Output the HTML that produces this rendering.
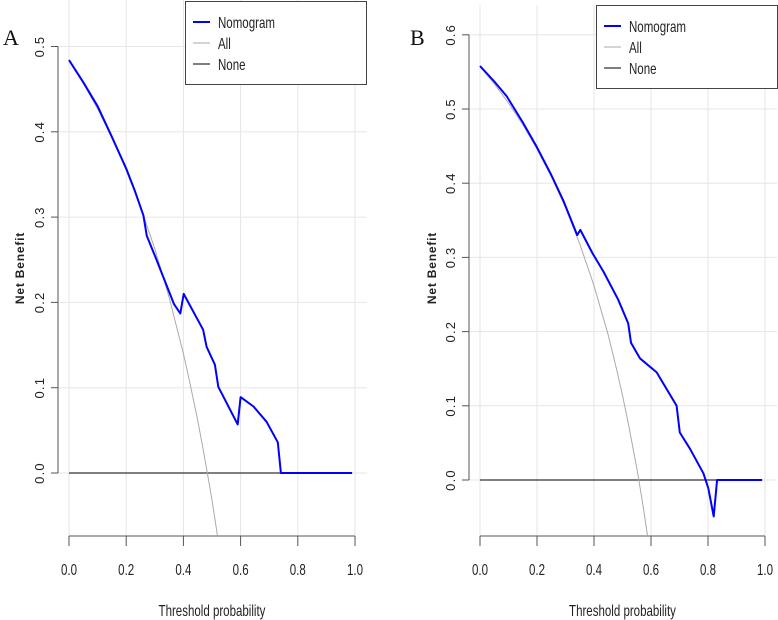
<!DOCTYPE html>
<html><head><meta charset="utf-8"><style>
body{margin:0;background:#fff;}
svg{display:block;font-family:"Liberation Sans",sans-serif;}
</style></head><body>
<svg id="c" width="778" height="620" viewBox="0 0 778 620"></svg>
<script>
// Panel A data
const xTicks = [0, 0.2, 0.4, 0.6, 0.8, 1.0];
const xTickLabels = ["0.0", "0.2", "0.4", "0.6", "0.8", "1.0"];
const aYTicks = [0, 0.1, 0.2, 0.3, 0.4, 0.5];
const aYTickLabels = ["0.0", "0.1", "0.2", "0.3", "0.4", "0.5"];
const aNomoT = [0, 0.05, 0.1, 0.15, 0.2, 0.23, 0.26, 0.272, 0.3, 0.367, 0.389, 0.401, 0.469, 0.481, 0.51, 0.522, 0.59, 0.6, 0.645, 0.691, 0.73, 0.741, 0.99];
const aNomoNB = [0.484, 0.458, 0.43, 0.394, 0.357, 0.331, 0.302, 0.278, 0.255, 0.198, 0.187, 0.21, 0.168, 0.148, 0.127, 0.101, 0.057, 0.089, 0.078, 0.06, 0.036, 0, 0];
const aAllT = [0, 0.05, 0.1, 0.15, 0.2, 0.25, 0.3, 0.35, 0.4, 0.42, 0.45, 0.47, 0.49, 0.5, 0.52];
const aAllNB = [0.484, 0.457, 0.427, 0.393, 0.355, 0.312, 0.263, 0.206, 0.14, 0.11, 0.062, 0.026, -0.012, -0.032, -0.075];
// Panel B data
const bYTicks = [0, 0.1, 0.2, 0.3, 0.4, 0.5, 0.6];
const bYTickLabels = ["0.0", "0.1", "0.2", "0.3", "0.4", "0.5", "0.6"];
const bNomoT = [0, 0.05, 0.094, 0.15, 0.199, 0.25, 0.292, 0.341, 0.352, 0.394, 0.433, 0.485, 0.52, 0.53, 0.561, 0.62, 0.69, 0.701, 0.737, 0.784, 0.801, 0.82, 0.832, 0.99];
const bNomoNB = [0.558, 0.537, 0.517, 0.482, 0.449, 0.411, 0.377, 0.33, 0.337, 0.306, 0.281, 0.243, 0.211, 0.185, 0.164, 0.145, 0.1, 0.064, 0.042, 0.009, -0.011, -0.049, 0, 0];
const bAllT = [0, 0.05, 0.1, 0.15, 0.2, 0.25, 0.3, 0.35, 0.4, 0.45, 0.48, 0.5, 0.52, 0.55, 0.57, 0.59];
const bAllNB = [0.557, 0.534, 0.508, 0.479, 0.446, 0.409, 0.367, 0.318, 0.262, 0.195, 0.148, 0.114, 0.077, 0.016, -0.03, -0.08];
const noneT = [0, 0.99];
const noneNB = [0, 0];

const NS = "http://www.w3.org/2000/svg";
const svg = document.getElementById("c");
function mk(tag, attrs, parent, text) {
  const e = document.createElementNS(NS, tag);
  for (const k in attrs) e.setAttribute(k, attrs[k]);
  if (text !== undefined) e.textContent = text;
  (parent || svg).appendChild(e);
  return e;
}

function panel(cfg) {
  const g = mk("g", {});
  
  
  const sx = t => cfg.x0 + t * (cfg.x1 - cfg.x0);
  const sy = v => cfg.y0 - v * cfg.ppu;
  const yMaxV = cfg.yTicks[cfg.yTicks.length - 1];
  const bottom = 536;
  const cid = "clip-" + cfg.name;
  const defs = mk("defs", {}, g);
  const cp = mk("clipPath", { id: cid }, defs);
  mk("rect", { x: cfg.axisX, y: 0, width: cfg.gridRight - cfg.axisX, height: bottom }, cp);
  const grid = mk("g", { stroke: "#e6e6e6", "stroke-width": 1 }, g);
  
  
  xTicks.forEach(t => { mk("line", { x1: sx(t), x2: sx(t), y1: cfg.gridTop, y2: bottom }, grid); });
  cfg.yTicks.forEach(v => { mk("line", { x1: cfg.axisX, x2: cfg.gridRight, y1: sy(v), y2: sy(v) }, grid); });
  const ya = mk("g", { stroke: "#555", "stroke-width": 1 }, g);
  
  
  mk("line", { x1: cfg.axisX, x2: cfg.axisX, y1: sy(0), y2: sy(yMaxV) }, ya);
  cfg.yTicks.forEach((v, i) => {
    mk("line", { x1: cfg.axisX - 7, x2: cfg.axisX, y1: sy(v), y2: sy(v) }, ya);
    const tx = cfg.axisX - 14, ty = sy(v);
    const lbl = mk("text", { x: tx, y: ty, transform: `rotate(-90 ${tx} ${ty})`, "text-anchor": "middle", "font-size": 13, fill: "#222", stroke: "none", "letter-spacing": "1.2" }, ya, cfg.yTickLabels[i]);
    
    
  });
  const xa = mk("g", { stroke: "#555", "stroke-width": 1 }, g);
  
  
  mk("line", { x1: sx(0), x2: sx(1), y1: bottom, y2: bottom }, xa);
  xTicks.forEach((t, i) => {
    mk("line", { x1: sx(t), x2: sx(t), y1: bottom, y2: bottom + 10 }, xa);
    const lbl = mk("text", { x: sx(t), y: 575, "text-anchor": "middle", "font-size": 16, fill: "#222", stroke: "none", transform: `translate(${sx(t)} 0) scale(0.72 1) translate(${-sx(t)} 0)` }, xa, xTickLabels[i]);
    
    
  });
  const cx = (sx(0) + sx(1)) / 2;
  const xt = mk("text", { x: cx, y: 616, "text-anchor": "middle", "font-size": 16, fill: "#222", transform: `translate(${cx} 0) scale(0.72 1) translate(${-cx} 0)` }, g, "Threshold probability");
  
  
  const yt = mk("text", { x: cfg.ytX, y: 268, transform: `rotate(-90 ${cfg.ytX} 268)`, "text-anchor": "middle", "font-size": 12, "font-weight": "bold", fill: "#222", "letter-spacing": "0.8" }, g, "Net Benefit");
  
  
  const series = mk("g", { "clip-path": `url(#${cid})`, fill: "none" }, g);
  const pts = (T, V) => T.map((t, i) => sx(t).toFixed(1) + "," + sy(V[i]).toFixed(1)).join(" ");
  const none = mk("polyline", { points: pts(noneT, noneNB), stroke: "#333", "stroke-width": 1.3 }, series);
  
  
  const all = mk("polyline", { points: pts(cfg.allT, cfg.allNB), stroke: "#aaa", "stroke-width": 1 }, series);
  
  
  const nomo = mk("polyline", { points: pts(cfg.nT, cfg.nNB), stroke: "#0000ff", "stroke-width": 2, "stroke-linejoin": "round" }, series);
  
  
  const lg = mk("g", {}, g);
  
  
  const L = cfg.legX, T = cfg.legY;
  mk("rect", { x: L + 0.5, y: T + 0.5, width: 181, height: 83, fill: "#fff", stroke: "#444", "stroke-width": 1 }, lg);
  const items = [["Nomogram", "#0000ff", 2], ["All", "#aaa", 1], ["None", "#333", 1.3]];
  items.forEach((it, i) => {
    const y = T + 21 + i * 21;
    const e = mk("g", {}, lg);
    
    
    mk("line", { x1: L + 8, x2: L + 25, y1: y, y2: y, stroke: it[1], "stroke-width": it[2] }, e);
    const tx = L + 33;
    mk("text", { x: tx, y: y + 6, "font-size": 16, fill: "#222", transform: `translate(${tx} 0) scale(0.72 1) translate(${-tx} 0)` }, e, it[0]);
  });
  const pl = mk("text", { x: cfg.letterX, y: 45, "font-family": "Liberation Serif, serif", "font-size": 22, fill: "#111" }, g, cfg.letter);
  
  
}

panel({ name: "panel-a", letter: "A", letterX: 3, x0: 69, x1: 355, y0: 473, ppu: 853, axisX: 58, gridRight: 367, gridTop: 0,
  yTicks: aYTicks, yTickLabels: aYTickLabels, nT: aNomoT, nNB: aNomoNB, allT: aAllT, allNB: aAllNB, ytX: 24, legX: 185, legY: 1 });
panel({ name: "panel-b", letter: "B", letterX: 410, x0: 480, x1: 765, y0: 480, ppu: 742, axisX: 469, gridRight: 777, gridTop: 5,
  yTicks: bYTicks, yTickLabels: bYTickLabels, nT: bNomoT, nNB: bNomoNB, allT: bAllT, allNB: bAllNB, ytX: 436, legX: 596, legY: 5 });
</script>
</body></html>
